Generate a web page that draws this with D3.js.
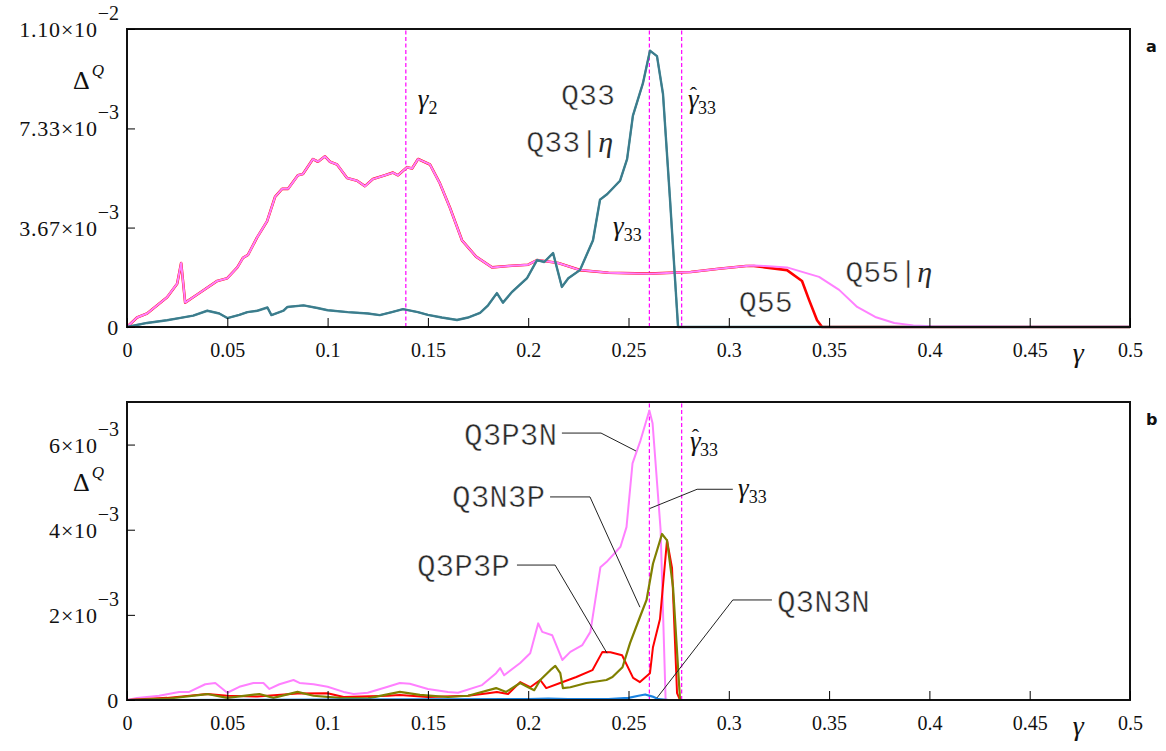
<!DOCTYPE html>
<html>
<head>
<meta charset="utf-8">
<script src="https://cdn.jsdelivr.net/npm/d3@7"></script>
<style>
  body { margin: 0; background: #fff; }
</style>
</head>
<body>
<div class="chart"></div>
<script>
// gamma on x, Delta^Q on y (y values in units of 1e-3)
const xTicks = [0, 0.05, 0.1, 0.15, 0.2, 0.25, 0.3, 0.35, 0.4, 0.45, 0.5];
const xTickLabels = ["0", "0.05", "0.1", "0.15", "0.2", "0.25", "0.3", "0.35", "0.4", "0.45", "0.5"];

const topTicks = [0, 3.67, 7.33, 11];
const topTickLabels = [["0", ""], ["3.67×10", "−3"], ["7.33×10", "−3"], ["1.10×10", "−2"]];
const bottomTicks = [0, 2, 4, 6];
const bottomTickLabels = [["0", ""], ["2×10", "−3"], ["4×10", "−3"], ["6×10", "−3"]];

const gamma2 = 0.139;
const gamma33 = 0.2604;
const gammaHat33 = 0.2765;

// panel a
const q33 = [[0,0],[0.01,0.15],[0.02,0.25],[0.026,0.33],[0.033,0.42],[0.04,0.6],[0.046,0.5],[0.05,0.33],
  [0.056,0.45],[0.06,0.55],[0.065,0.6],[0.07,0.72],[0.072,0.44],[0.078,0.6],[0.08,0.74],[0.088,0.8],
  [0.095,0.7],[0.1,0.62],[0.11,0.55],[0.12,0.5],[0.126,0.44],[0.132,0.55],[0.1376,0.66],[0.145,0.55],
  [0.15,0.45],[0.157,0.35],[0.1645,0.26],[0.17,0.35],[0.176,0.52],[0.18,0.8],[0.1844,1.25],[0.1874,0.9],
  [0.192,1.3],[0.1994,1.8],[0.2044,2.47],[0.208,2.4],[0.2124,2.73],[0.2168,1.48],[0.22,1.8],[0.2258,2.1],
  [0.2323,3.2],[0.2358,4.7],[0.2393,4.9],[0.2458,5.4],[0.2493,6.2],[0.2522,7.8],[0.2572,9.0],[0.2607,10.2],
  [0.2642,10.0],[0.2672,8.6],[0.2707,4.7],[0.2747,0],[0.5,0]];
const q33Eta = [[0,0],[0.01,0.15],[0.02,0.25],[0.026,0.33],[0.033,0.42],[0.04,0.6],[0.046,0.5],[0.05,0.33],
  [0.056,0.45],[0.06,0.55],[0.065,0.6],[0.07,0.72],[0.072,0.44],[0.078,0.6],[0.08,0.74],[0.088,0.8],
  [0.095,0.7],[0.1,0.62],[0.11,0.55],[0.12,0.5],[0.126,0.44],[0.132,0.55],[0.1376,0.66],[0.145,0.55],
  [0.15,0.45],[0.157,0.35],[0.1645,0.26],[0.17,0.35],[0.176,0.52],[0.18,0.8],[0.1844,1.25],[0.1874,0.9],
  [0.192,1.3],[0.1994,1.8],[0.2044,2.47],[0.208,2.4],[0.2124,2.73],[0.2168,1.48],[0.22,1.8],[0.2258,2.1],
  [0.2323,3.2],[0.2358,4.7],[0.2393,4.9],[0.2458,5.4],[0.2493,6.2],[0.2522,7.8],[0.2572,9.0],[0.2607,10.2],
  [0.2642,10.0],[0.2672,8.6],[0.2707,4.7],[0.2747,0],[0.5,0]];
const q55Eta = [[0,0],[0.005,0.35],[0.01,0.5],[0.02,1.1],[0.025,1.6],[0.027,2.36],[0.029,0.9],[0.035,1.2],
  [0.045,1.7],[0.05,1.8],[0.055,2.2],[0.0578,2.55],[0.0603,2.66],[0.0648,3.3],[0.0698,3.9],[0.0738,4.8],
  [0.0773,5.1],[0.0803,5.1],[0.0852,5.6],[0.0877,5.65],[0.0927,6.2],[0.0952,6.1],[0.0987,6.3],[0.1012,6.1],
  [0.1047,6.0],[0.1097,5.5],[0.1147,5.4],[0.1186,5.2],[0.1226,5.46],[0.1286,5.6],[0.1326,5.7],[0.1351,5.6],
  [0.1396,5.9],[0.1421,5.85],[0.1451,6.2],[0.151,6.0],[0.156,5.3],[0.161,4.4],[0.167,3.2],[0.174,2.6],
  [0.182,2.2],[0.19,2.25],[0.2,2.3],[0.2044,2.47],[0.215,2.36],[0.2258,2.1],[0.24,2.0],[0.26,1.97],
  [0.281,2.03],[0.295,2.15],[0.3086,2.25],[0.3125,2.27],[0.318,2.25],[0.329,2.2],[0.345,1.85],[0.355,1.37],
  [0.364,0.74],[0.373,0.37],[0.3825,0.15],[0.392,0.06],[0.401,0.03],[0.45,0.01],[0.5,0.01]];
const q55 = [[0,0],[0.005,0.35],[0.01,0.5],[0.02,1.1],[0.025,1.6],[0.027,2.36],[0.029,0.9],[0.035,1.2],
  [0.045,1.7],[0.05,1.8],[0.055,2.2],[0.0578,2.55],[0.0603,2.66],[0.0648,3.3],[0.0698,3.9],[0.0738,4.8],
  [0.0773,5.1],[0.0803,5.1],[0.0852,5.6],[0.0877,5.65],[0.0927,6.2],[0.0952,6.1],[0.0987,6.3],[0.1012,6.1],
  [0.1047,6.0],[0.1097,5.5],[0.1147,5.4],[0.1186,5.2],[0.1226,5.46],[0.1286,5.6],[0.1326,5.7],[0.1351,5.6],
  [0.1396,5.9],[0.1421,5.85],[0.1451,6.2],[0.151,6.0],[0.156,5.3],[0.161,4.4],[0.167,3.2],[0.174,2.6],
  [0.182,2.2],[0.19,2.25],[0.2,2.3],[0.2044,2.47],[0.215,2.36],[0.2258,2.1],[0.24,2.0],[0.26,1.97],
  [0.281,2.03],[0.295,2.15],[0.3086,2.25],[0.3125,2.25],[0.318,2.2],[0.329,2.1],[0.3365,1.7],[0.34,1.0],
  [0.344,0.25],[0.3465,0],[0.5,0]];

// panel b
const q3p3n = [[0,0],[0.005,0.05],[0.016,0.1],[0.026,0.19],[0.031,0.19],[0.039,0.37],[0.044,0.4],[0.05,0.17],
  [0.056,0.31],[0.063,0.4],[0.068,0.4],[0.071,0.26],[0.076,0.37],[0.083,0.47],[0.086,0.4],[0.093,0.37],
  [0.1,0.31],[0.108,0.19],[0.113,0.14],[0.12,0.17],[0.13,0.31],[0.136,0.4],[0.141,0.38],[0.15,0.26],
  [0.16,0.19],[0.165,0.17],[0.177,0.35],[0.184,0.63],[0.186,0.75],[0.188,0.58],[0.196,0.87],[0.201,1.1],
  [0.205,1.8],[0.207,1.6],[0.212,1.52],[0.217,0.94],[0.221,1.13],[0.227,1.29],[0.231,1.6],[0.236,3.12],
  [0.239,3.24],[0.246,3.6],[0.249,4.06],[0.252,5.56],[0.256,6.1],[0.2604,6.8],[0.262,6.5],[0.266,4.0],
  [0.2685,0],[0.5,0]];
const q3n3p = [[0,0],[0.02,0.03],[0.04,0.14],[0.05,0.05],[0.066,0.14],[0.073,0.05],[0.085,0.19],[0.093,0.1],
  [0.106,0.05],[0.12,0.04],[0.136,0.19],[0.146,0.12],[0.16,0.07],[0.17,0.1],[0.184,0.28],[0.189,0.19],
  [0.196,0.4],[0.2,0.3],[0.203,0.23],[0.206,0.47],[0.211,0.7],[0.2135,0.8],[0.216,0.63],[0.2173,0.28],
  [0.221,0.3],[0.229,0.4],[0.239,0.47],[0.242,0.54],[0.247,0.77],[0.2508,1.34],[0.2557,1.95],[0.259,2.35],
  [0.2622,3.2],[0.2667,3.9],[0.2692,3.75],[0.2722,2.65],[0.2757,0],[0.5,0]];
const q3p3p = [[0,0],[0.02,0.05],[0.04,0.14],[0.05,0.1],[0.065,0.08],[0.085,0.15],[0.1,0.16],[0.108,0.07],
  [0.13,0.1],[0.136,0.12],[0.15,0.07],[0.17,0.1],[0.18,0.16],[0.1844,0.19],[0.19,0.14],[0.196,0.42],
  [0.201,0.3],[0.206,0.47],[0.209,0.28],[0.2159,0.4],[0.224,0.54],[0.232,0.7],[0.237,1.13],[0.241,1.12],
  [0.2468,1.05],[0.2523,0.52],[0.2557,0.42],[0.2607,0.63],[0.2622,1.24],[0.2657,1.9],[0.2692,3.75],
  [0.2717,3.1],[0.2742,0.16],[0.2757,0],[0.5,0]];
const q3n3n = [[0,0],[0.1,0.01],[0.2,0.02],[0.21,0.03],[0.22,0.02],[0.24,0.02],[0.25,0.05],[0.255,0.1],
  [0.2583,0.13],[0.262,0.08],[0.265,0.02],[0.27,0],[0.276,0]];

// leader lines of panel b, in data units
const leaderQ3P3N = [[0.2168,6.27],[0.2363,6.27],[0.2537,5.85]];
const leaderQ3N3P = [[0.2109,4.77],[0.2308,4.77],[0.2557,2.18]];
const leaderQ3P3P = [[0.1944,3.17],[0.2134,3.17],[0.2393,1.10]];
const leaderQ3N3N = [[0.3215,2.35],[0.302,2.35],[0.2642,0.05]];
const leaderGamma33 = [[0.302,4.95],[0.2842,4.95],[0.2607,4.5]];

const width = 1166, height = 751;
const left = 127, right = 1130;
const serif = "Liberation Serif";
const mono = "Liberation Mono";

const svg = d3.select(".chart").append("svg")
  .attr("width", width)
  .attr("height", height);

const x = d3.scaleLinear().domain([0, 0.5]).range([left, right]);

function gammaLabel(g, px, py, sub, hat) {
  const t = g.append("text").attr("x", px).attr("y", py)
    .attr("font-family", serif).attr("fill", "#111");
  t.append("tspan").attr("font-style", "italic").attr("font-size", 27).text("γ");
  if (hat) {
    // hat sits over the gamma, then step back down for the subscript
    t.append("tspan").attr("font-size", 22).attr("dx", -9).attr("dy", -6).text("ˆ");
    t.append("tspan").attr("font-size", 18).attr("dx", 1).attr("dy", 12).text(sub);
  } else {
    t.append("tspan").attr("font-size", 18).attr("dy", 6).text(sub);
  }
}

function monoLabel(g, px, py, txt, eta, anchor, size) {
  const t = g.append("text").attr("x", px).attr("y", py)
    .attr("text-anchor", anchor).attr("fill", "#2a2a2a")
    .attr("stroke", "#fff").attr("stroke-width", 0.5);
  t.append("tspan").attr("font-family", mono).attr("font-size", size).text(txt);
  if (eta) {
    t.append("tspan").attr("font-family", mono).attr("font-size", size).text("|");
    t.append("tspan").attr("font-family", serif).attr("font-style", "italic").attr("font-size", size).attr("stroke", "none").text("η");
  }
}

function drawPanel(opts) {
  const y = d3.scaleLinear().domain([0, opts.yMax]).range([opts.bottom, opts.top]);
  const g = svg.append("g");
  const path = d3.line().x(d => x(d[0])).y(d => y(d[1]));

  // dashed reference lines
  g.selectAll(".ref")
    .data(opts.refs)
    .enter()
    .append("line")
    .attr("x1", d => x(d)).attr("x2", d => x(d))
    .attr("y1", y(0)).attr("y2", y(opts.yMax))
    .attr("stroke", "#ff00ff")
    .attr("stroke-width", 1.2)
    .attr("stroke-dasharray", "4,2.5");

  opts.series.forEach(s => {
    g.append("path")
      .datum(s.data)
      .attr("d", path)
      .attr("fill", "none")
      .attr("stroke", s.color)
      .attr("stroke-width", s.width)
      .attr("stroke-linejoin", "round");
  });

  (opts.leaders || []).forEach(l => {
    g.append("path")
      .datum(l)
      .attr("d", path)
      .attr("fill", "none")
      .attr("stroke", "#222")
      .attr("stroke-width", 1);
  });

  // frame
  g.append("rect")
    .attr("x", left).attr("y", opts.top)
    .attr("width", right - left).attr("height", opts.bottom - opts.top)
    .attr("fill", "none").attr("stroke", "#111").attr("stroke-width", 2);

  // x axis, ticks point inward
  g.append("g")
    .attr("transform", "translate(0," + opts.bottom + ")")
    .call(d3.axisBottom(x).tickValues(xTicks).tickFormat((d, i) => xTickLabels[i]).tickSize(-9).tickPadding(16))
    .call(a => a.select(".domain").remove())
    .attr("font-size", 20)
    .attr("font-family", serif)
    .call(a => a.selectAll("text").attr("fill", "#111").attr("font-family", serif));

  // y axis
  g.append("g")
    .attr("transform", "translate(" + left + ",0)")
    .call(d3.axisLeft(y).tickValues(opts.ticks).tickFormat("").tickSize(-8))
    .call(a => a.select(".domain").remove());

  opts.ticks.forEach((v, i) => {
    const lab = opts.tickLabels[i];
    const t = g.append("text")
      .attr("x", 119).attr("y", y(v) + 8)
      .attr("font-family", serif)
      .attr("text-anchor", "end").attr("fill", "#111");
    t.append("tspan").attr("font-size", 22).attr("letter-spacing", 0.8).text(lab[0]);
    if (lab[1]) t.append("tspan").attr("font-size", 20).attr("dy", -17).text(lab[1]);
  });

  // Delta^Q label
  const dq = g.append("text").attr("x", 73).attr("y", y(opts.deltaAt))
    .attr("font-family", serif).attr("fill", "#111");
  dq.append("tspan").attr("font-size", 26).text("Δ");
  dq.append("tspan").attr("font-size", 17).attr("font-style", "italic").attr("dx", 2).attr("dy", -13).text("Q");

  // gamma axis label
  g.append("text")
    .attr("x", x(0.4715)).attr("y", opts.bottom + 35)
    .attr("font-family", serif)
    .attr("font-style", "italic").attr("font-size", 28).attr("fill", "#111")
    .text("γ");

  // panel letter
  g.append("text")
    .attr("x", 1146).attr("y", opts.top + 23)
    .attr("font-family", "DejaVu Sans").attr("font-weight", "bold")
    .attr("font-size", 16).attr("fill", "#111")
    .text(opts.letter);

  return { g: g, y: y };
}

const teal = "#3b7c8c";
const violet = "#ff80ff";

const a = drawPanel({
  top: 29, bottom: 327, yMax: 11,
  ticks: topTicks, tickLabels: topTickLabels,
  refs: [gamma2, gamma33, gammaHat33],
  deltaAt: 8.8, letter: "a",
  series: [
    { data: q55, color: "#ff0000", width: 2.6 },
    { data: q55Eta, color: violet, width: 2 },
    { data: q33Eta, color: "#4a8a98", width: 2.4 },
    { data: q33, color: teal, width: 1.8 }
  ]
});

monoLabel(a.g, x(0.2433), a.y(8.19), "Q33", false, "end", 30);
monoLabel(a.g, x(0.2423), a.y(6.46), "Q33", true, "end", 30);
monoLabel(a.g, x(0.305), a.y(0.55), "Q55", false, "start", 30);
monoLabel(a.g, x(0.358), a.y(1.66), "Q55", true, "start", 30);
gammaLabel(a.g, x(0.145), a.y(8.08), "2", false);
gammaLabel(a.g, x(0.2423), a.y(3.40), "33", false);
gammaLabel(a.g, x(0.2797), a.y(8.08), "33", true);

const b = drawPanel({
  top: 402, bottom: 700, yMax: 7,
  ticks: bottomTicks, tickLabels: bottomTickLabels,
  refs: [gamma33, gammaHat33],
  deltaAt: 4.9, letter: "b",
  leaders: [leaderQ3P3N, leaderQ3N3P, leaderQ3P3P, leaderQ3N3N, leaderGamma33],
  series: [
    { data: q3p3n, color: violet, width: 2 },
    { data: q3p3p, color: "#ff0000", width: 2 },
    { data: q3n3p, color: "#808000", width: 2.2 },
    { data: q3n3n, color: "#1a82e0", width: 2.2 }
  ]
});

monoLabel(b.g, x(0.2144), b.y(5.99), "Q3P3N", false, "end", 31);
monoLabel(b.g, x(0.2084), b.y(4.53), "Q3N3P", false, "end", 31);
monoLabel(b.g, x(0.1909), b.y(2.91), "Q3P3P", false, "end", 31);
monoLabel(b.g, x(0.324), b.y(2.07), "Q3N3N", false, "start", 31);
gammaLabel(b.g, x(0.2807), b.y(5.87), "33", true);
gammaLabel(b.g, x(0.3046), b.y(4.77), "33", false);
</script>
</body>
</html>
